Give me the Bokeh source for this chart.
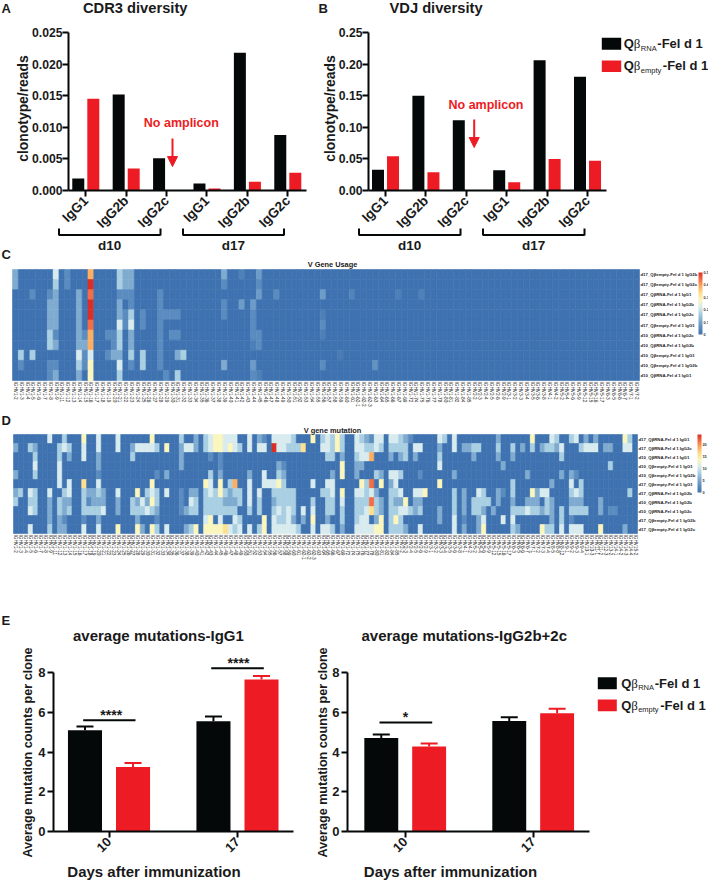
from math import pi
from bokeh.plotting import figure
from bokeh.layouts import row, column
from bokeh.models import (Label, Arrow, NormalHead, BoxAnnotation, FixedTicker, ColorBar, LinearAxis, Range1d,
                          LinearColorMapper, Whisker, TeeHead, ColumnDataSource)
from bokeh.embed import file_html
from bokeh.resources import INLINE

BLACK = "#050808"
RED = "#ed1c24"
FONT = "Liberation Sans"
DARK = "#1a1a1a"

ISOTYPES = ["IgG1", "IgG2b", "IgG2c", "IgG1", "IgG2b", "IgG2c"]
A_RNA = [0.0019, 0.0152, 0.0051, 0.0011, 0.0218, 0.0088]
A_EMPTY = [0.0145, 0.0035, 0.0, 0.0003, 0.0014, 0.0028]
B_RNA = [0.033, 0.150, 0.111, 0.032, 0.206, 0.180]
B_EMPTY = [0.054, 0.029, 0.0, 0.013, 0.050, 0.047]

DAYS = ["10", "17"]
E1_RNA = [5.10, 5.55]
E1_RNA_TOP = [5.28, 5.78]
E1_EMPTY = [3.25, 7.65]
E1_EMPTY_TOP = [3.45, 7.83]
E2_RNA = [4.71, 5.56]
E2_RNA_TOP = [4.88, 5.75]
E2_EMPTY = [4.28, 5.95]
E2_EMPTY_TOP = [4.43, 6.17]

C_ROWS = ["d17_Qβempty-Fel d 1 IgG2b", "d17_Qβempty-Fel d 1 IgG2c", "d17_QβRNA-Fel d 1 IgG1",
          "d17_QβRNA-Fel d 1 IgG2b", "d17_QβRNA-Fel d 1 IgG2c", "d17_Qβempty-Fel d 1 IgG1",
          "d10_QβRNA-Fel d 1 IgG2c", "d10_QβRNA-Fel d 1 IgG2b", "d10_Qβempty-Fel d 1 IgG1",
          "d10_Qβempty-Fel d 1 IgG2b", "d10_QβRNA-Fel d 1 IgG1"]
D_ROWS = ["d17_QβRNA-Fel d 1 IgG1", "d17_QβRNA-Fel d 1 IgG2c", "d10_QβRNA-Fel d 1 IgG1",
          "d10_Qβempty-Fel d 1 IgG1", "d10_Qβempty-Fel d 1 IgG2b", "d17_Qβempty-Fel d 1 IgG1",
          "d17_QβRNA-Fel d 1 IgG2b", "d10_QβRNA-Fel d 1 IgG2b", "d10_QβRNA-Fel d 1 IgG2c",
          "d17_Qβempty-Fel d 1 IgG2b", "d17_Qβempty-Fel d 1 IgG2c"]

GENE_NAMES = """1-2 1-3 1-4 1-5 1-6 1-7 1-8 1-9 1-11 1-12 1-13 1-14 1-15 1-16 1-17 1-18 1-19 1-20 1-21 1-22
1-23 1-24 1-25 1-26 1-27 1-28 1-29 1-30 1-31 1-32 1-33 1-34 1-35 1-36 1-37 1-38 1-39 1-40 1-41 1-42
1-43 1-44 1-45 1-46 1-47 1-48 1-49 1-50 1-51 1-52 1-53 1-54 1-55 1-56 1-57 1-58 1-59 1-60 1-61 1-62-1
1-62-2 1-62-3 1-63 1-64 1-65 1-66 1-67 1-69 1-72 1-74 1-75 1-76 1-77 1-78 1-80 1-81 1-82 1-84 1-85 2-2
2-3 2-4 2-5 2-6 2-9 3-1 3-2 3-3 3-4 3-5 3-6 3-8 4-1 4-2 5-2 5-4 5-6 5-9 5-12 5-15
5-16 5-17 6-3 6-5 6-6 6-7 7-1 7-2 7-3 7-4 8-5 8-8 8-12 9-1 9-2 9-3 9-4 10-1 10-3 11-1
11-2 12-3 13-2 14-1 14-2 14-3 14-4 15-2""".split()
C_GENES = ["IGHV" + g for g in GENE_NAMES[:108]]
D_GENES = ["IGHV" + g for g in GENE_NAMES]

# heat levels read by eye: column -> colour level 0 (blue) .. 9 (red)
C_LEVELS = [
    {0: 2, 7: 4, 9: 1, 13: 7, 18: 3, 19: 2, 20: 2, 36: 2, 39: .6, 42: 1.5},
    {0: 2, 7: 3, 9: 1, 13: 9, 18: 3, 19: 2, 20: 2, 36: 1, 42: 1},
    {3: 1, 6: 1, 7: 2, 11: 2, 13: 8, 18: 1, 19: 1, 20: 1, 25: 1, 42: 1.5, 45: 1, 53: 1.5, 58: .7, 66: .5, 70: .6},
    {6: 2, 7: 2, 11: 2, 13: 9, 18: 2, 20: 1, 25: 1, 36: 1, 39: 1.5, 41: 1.5},
    {6: 2, 7: 2, 11: 2, 13: 9, 18: 2, 19: 1, 20: 3, 22: 1, 25: 1, 26: 1, 27: 1, 28: 1, 36: 1, 41: 1, 53: .5},
    {6: 2, 7: 2, 11: 2, 13: 8, 18: 4, 19: 1, 20: 4, 22: 1, 25: 1, 41: 1, 53: 1},
    {6: 3, 7: 1, 11: 2, 12: 1, 13: 7, 16: 1, 17: 1, 18: 3, 20: 2, 25: 1, 27: 1, 28: 1, 41: 1, 42: 1, 53: .5},
    {6: 3, 7: 2, 11: 2, 12: 2, 13: 7, 17: 1, 18: 3, 20: 2, 25: 1, 41: .5, 42: 1},
    {1: 3, 3: 3, 11: 4, 12: 1, 13: 4, 16: 1, 17: 2, 18: 2, 20: 3, 22: 3, 25: 1, 28: 2, 29: 3, 56: .4},
    {1: 1, 6: 1, 7: 1, 11: 3, 12: 1, 13: 5, 18: 4, 20: 1, 22: 3, 25: 1, 36: 2, 41: 1.5, 53: 1, 62: 1.2},
    {6: 1, 7: 2, 11: 2, 13: 5, 18: 3, 26: 1, 28: 3, 41: 1, 42: .6},
]
D_LEVELS = [
    {7: 4, 10: 3, 14: 5, 17: 4, 21: 4, 28: 5, 34: 3, 37: 2, 39: 3, 40: 4, 41: 5, 42: 5, 43: 4, 44: 4, 45: 4, 48: 4,
     50: 2, 51: 1, 53: 4, 54: 4, 55: 4, 56: 4, 57: 3, 61: 5, 63: 3, 64: 4, 65: 3, 66: 5, 67: 3, 70: 4, 71: 3, 72: 2,
     73: 1, 74: 4, 75: 4, 77: 4, 78: 4, 79: 3, 80: 2, 81: 1, 87: 4, 88: 3, 90: 4, 99: 2, 106: 5, 110: 4, 111: 3,
     114: 3, 115: 4, 117: 2, 119: 2, 125: 5, 126: 3},
    {0: 2, 3: 3, 4: 2, 9: 3, 10: 4, 11: 3, 14: 4, 17: 4, 21: 4, 24: 2, 25: 4, 26: 4, 27: 4, 28: 4, 29: 3, 31: 5, 34: 2,
     35: 4, 36: 4, 37: 2, 39: 3, 40: 4, 41: 5, 42: 5, 43: 4, 44: 5, 45: 4, 46: 3, 48: 4, 50: 4, 51: 4, 53: 9, 54: 4,
     55: 4, 56: 3, 57: 3, 58: 3, 59: 6, 63: 4, 64: 4, 65: 3, 66: 5, 67: 3, 70: 4, 71: 4, 72: 3, 73: 3, 74: 4, 75: 3,
     77: 3, 78: 3, 79: 3, 80: 3, 82: 4, 83: 4, 87: 2, 90: 4, 92: 2, 93: 2, 94: 3, 95: 3, 99: 3, 102: 3, 104: 2, 106: 3,
     108: 2, 109: 3, 110: 3, 111: 2, 112: 4, 116: 3, 117: 4, 118: 4, 119: 4, 121: 2, 122: 2, 125: 4, 126: 4},
    {4: 3, 9: 3, 11: 2, 14: 4, 17: 2, 24: 3, 34: 2, 40: 1, 42: 1, 64: 3, 65: 3, 67: 2, 70: 3, 71: 4, 72: 4, 73: 7,
     77: 2, 79: 2, 80: 3, 82: 2, 87: 3, 94: 2, 99: 2, 102: 2, 112: 3},
    {4: 4, 9: 4, 17: 2, 34: 2, 42: 1, 54: 2, 55: 1, 67: 5, 70: 2, 71: 2, 87: 4, 100: 2, 122: 3},
    {0: 2, 4: 3, 9: 4, 17: 1, 29: 1, 31: 2, 40: 3, 42: 2, 48: 2, 51: 4, 54: 3, 55: 2, 65: 2, 67: 5, 70: 2, 74: 3,
     75: 2, 77: 4, 78: 4, 79: 3, 83: 1, 90: 2, 105: 2, 112: 2, 114: 2, 115: 1},
    {9: 4, 11: 4, 14: 6, 17: 4, 28: 5, 39: 5, 40: 4, 42: 5, 44: 3, 45: 7, 48: 4, 51: 4, 52: 4, 53: 4, 54: 5, 55: 3,
     61: 4, 64: 4, 65: 4, 71: 5, 72: 3, 73: 8, 75: 5, 77: 2, 78: 4, 87: 5, 102: 3, 110: 2, 114: 4, 116: 3},
    {0: 2, 1: 3, 3: 4, 4: 3, 7: 4, 10: 3, 11: 4, 14: 3, 15: 2, 16: 2, 17: 3, 18: 2, 21: 4, 25: 5, 27: 3, 28: 4, 29: 3,
     31: 4, 34: 1, 36: 2, 37: 2, 39: 3, 40: 4, 41: 3, 42: 5, 43: 3, 44: 2, 45: 3, 46: 3, 48: 4, 50: 4, 53: 3, 54: 3,
     55: 3, 56: 3, 57: 3, 63: 3, 64: 3, 65: 4, 67: 5, 70: 4, 71: 4, 72: 3, 73: 4, 74: 2, 77: 3, 78: 3, 79: 4, 82: 4,
     83: 4, 84: 5, 90: 3, 92: 2, 95: 4, 96: 3, 99: 2, 100: 1, 102: 3, 106: 5, 107: 2, 108: 4, 109: 4, 114: 3, 115: 4,
     116: 3, 126: 3},
    {0: 3, 3: 3, 4: 3, 7: 2, 9: 3, 10: 2, 11: 2, 14: 3, 15: 1, 16: 2, 17: 2, 18: 2, 21: 2, 24: 3, 25: 2, 26: 4, 27: 2,
     28: 5, 29: 3, 34: 1, 36: 4, 37: 3, 39: 3, 40: 3, 41: 3, 42: 3, 43: 2, 44: 2, 45: 2, 46: 3, 48: 4, 50: 3, 53: 2,
     54: 3, 55: 3, 56: 3, 57: 3, 61: 3, 64: 3, 65: 3, 67: 4, 70: 3, 71: 3, 72: 3, 73: 8, 74: 3, 75: 2, 77: 3, 78: 2,
     79: 2, 80: 5, 82: 2, 83: 2, 90: 3, 92: 2, 94: 3, 95: 3, 96: 3, 97: 3, 99: 2, 102: 2, 105: 2, 106: 2, 107: 2,
     109: 3, 110: 2, 114: 2, 115: 2, 116: 2, 120: 2},
    {3: 4, 4: 3, 7: 2, 9: 3, 10: 2, 11: 3, 14: 3, 15: 3, 16: 3, 17: 3, 18: 4, 21: 2, 24: 3, 25: 3, 26: 3, 27: 4, 28: 3,
     29: 2, 34: 1, 35: 2, 36: 3, 37: 3, 39: 3, 40: 3, 41: 3, 42: 3, 43: 3, 44: 3, 45: 3, 48: 3, 50: 3, 53: 3, 54: 4,
     55: 3, 56: 4, 57: 3, 59: 4, 61: 4, 64: 3, 65: 3, 67: 3, 70: 3, 71: 3, 72: 4, 73: 6, 74: 3, 75: 2, 77: 3, 78: 3,
     79: 4, 80: 4, 81: 3, 82: 2, 83: 3, 87: 2, 90: 3, 92: 2, 94: 3, 95: 3, 96: 2, 98: 2, 102: 3, 103: 3, 104: 3,
     105: 4, 106: 3, 107: 3, 108: 2, 109: 3, 110: 2, 112: 3, 114: 3, 115: 3, 116: 3, 117: 3, 120: 2, 122: 1, 123: 1},
    {7: 2, 9: 2, 10: 1, 14: 1, 17: 2, 25: 2, 29: 1, 39: 4, 40: 5, 42: 4, 45: 4, 46: 3, 51: 5, 53: 4, 54: 3, 55: 3,
     56: 4, 57: 2, 59: 2, 61: 5, 64: 2, 67: 3, 70: 3, 71: 4, 72: 4, 74: 2, 75: 5, 77: 3, 78: 5, 79: 3, 87: 2, 90: 4,
     92: 1, 95: 2, 96: 4, 100: 4, 102: 4, 110: 2, 112: 3, 114: 1},
    {3: 4, 7: 3, 9: 2, 10: 2, 14: 4, 17: 4, 21: 5, 25: 5, 26: 2, 28: 5, 29: 3, 31: 4, 35: 2, 36: 3, 37: 5, 39: 5, 40: 5,
     41: 5, 42: 5, 43: 6, 44: 4, 45: 3, 46: 4, 48: 4, 50: 3, 51: 5, 53: 4, 54: 4, 55: 4, 56: 4, 57: 4, 58: 3, 61: 4,
     63: 4, 64: 4, 65: 3, 67: 2, 70: 4, 71: 4, 72: 4, 73: 4, 74: 5, 75: 5, 77: 3, 78: 3, 79: 3, 80: 2, 83: 4, 90: 4,
     92: 2, 95: 2, 96: 5, 102: 3, 103: 2, 108: 5, 109: 3, 110: 3, 112: 4, 114: 4, 115: 4, 116: 4, 120: 5, 125: 2},
]
C_MAX = 0.5
D_MAX = 24
C_TICKS = [0, 0.1, 0.2, 0.3, 0.4, 0.5]
D_TICKS = [0, 5, 10, 15, 20]

ANCHORS = ["#3f72b0", "#5b8cc0", "#7fabd0", "#a9cfe3", "#d8ebee", "#faf6be", "#fde08f", "#fdae61", "#f46d43", "#d92f27"]


def make_palette():
    out = []
    for a, b in zip(ANCHORS[:-1], ANCHORS[1:]):
        ca = [int(a[i:i + 2], 16) for i in (1, 3, 5)]
        cb = [int(b[i:i + 2], 16) for i in (1, 3, 5)]
        for t in range(28):
            f = t / 28
            out.append("#%02x%02x%02x" % tuple(round(x + (y - x) * f) for x, y in zip(ca, cb)))
    out.append(ANCHORS[-1])
    return out


PALETTE = make_palette()


class Panel:
    """A figure whose frame fills it; `axes` is where (in page px) the axes box lies for the data ranges xr, yr."""

    def __init__(self, box, axes, xr, yr):
        self.box, self.axes, self.xr, self.yr = box, axes, xr, yr
        L, T, R, B = box
        self.p = figure(width=R - L, height=B - T,
                        x_range=Range1d(self.dx(L), self.dx(R)), y_range=Range1d(self.dy(B), self.dy(T)),
                        toolbar_location=None, output_backend="svg", min_border=0, outline_line_color=None,
                        background_fill_color=None, border_fill_color=None, x_axis_type=None, y_axis_type=None)
        self.p.grid.visible = False

    def dx(self, px):
        fl, _, fr, _ = self.axes
        a, b = self.xr
        return a + (px - fl) / (fr - fl) * (b - a)

    def dy(self, px):
        _, ft, _, fb = self.axes
        a, b = self.yr
        return a + (fb - px) / (fb - ft) * (b - a)

    def axis(self, side):
        if side in ("below",):
            ax = LinearAxis(fixed_location=self.yr[0], bounds=self.xr)
        elif side == "left":
            ax = LinearAxis(fixed_location=self.xr[0], bounds=self.yr)
        else:
            ax = LinearAxis(fixed_location=self.xr[1], bounds=self.yr)
        self.p.add_layout(ax, side)
        return ax

    def text(self, x, y, s, size, color=DARK, bold=True, align="left", base="alphabetic", font=FONT, angle=0.0):
        if base == "alphabetic":
            y = y - 0.34 * size  # Label draws this baseline lower than the given y
        self.p.add_layout(Label(x=self.dx(x), y=self.dy(y), text=s, text_font=font, angle=angle,
                                text_font_size=f"{size}px", text_color=color,
                                text_font_style="bold" if bold else "normal",
                                text_align=align, text_baseline=base))

    def line(self, x0, y0, x1, y1, width=2, color=BLACK):
        self.p.add_layout(Arrow(end=None, x_start=self.dx(x0), y_start=self.dy(y0), x_end=self.dx(x1),
                                y_end=self.dy(y1), line_color=color, line_width=width))

    def legend(self, left, right, tops, bots, xt, bases, size=13):
        names = ["RNA", "empty"]
        colors = [BLACK, RED]
        for top, bot, base, name, col in zip(tops, bots, bases, names, colors):
            self.p.add_layout(BoxAnnotation(left=self.dx(left), right=self.dx(right), top=self.dy(top),
                                            bottom=self.dy(bot), fill_color=col, fill_alpha=1,
                                            line_color=None, level="overlay"))
            self.text(xt, base, "Q", size)
            self.text(xt + 10, base, "β", size, bold=False, font="Liberation Serif")
            self.text(xt + 17, base + 3, name, 7.5, bold=False)
            self.text(xt + (33.5 if name == "RNA" else 39), base, "-Fel d 1", size)


def style_axis(ax, tick_size, standoff=2):
    ax.axis_line_width = 2
    ax.axis_line_color = BLACK
    ax.major_tick_line_width = 2
    ax.major_tick_line_color = BLACK
    ax.major_tick_out = 6
    ax.major_tick_in = 0
    ax.minor_tick_line_color = None
    ax.major_label_text_font = FONT
    ax.major_label_text_font_style = "bold"
    ax.major_label_text_font_size = f"{tick_size}px"
    ax.major_label_text_color = DARK
    ax.major_label_standoff = standoff


def diversity(box, axes, xr, yr, rna, empty, yticks, ylabels, ylab_x, title, title_x, amp_x, amp_y, arrow_x, arrow_y, br):
    pan = Panel(box, axes, xr, yr)
    p = pan.p
    x = list(range(len(rna)))
    p.vbar(x=[i - 0.186 for i in x], top=rna, width=0.297, fill_color=BLACK, line_color=None)
    p.vbar(x=[i + 0.186 for i in x], top=empty, width=0.297, fill_color=RED, line_color=None)
    xa = pan.axis("below")
    ya = pan.axis("left")
    style_axis(xa, 13.5)
    style_axis(ya, 12.2, 0)
    xa.ticker = FixedTicker(ticks=x)
    xa.major_label_overrides = {i: n for i, n in zip(x, ISOTYPES)}
    xa.major_label_orientation = pi / 4
    ya.ticker = FixedTicker(ticks=yticks)
    ya.major_label_overrides = dict(zip(yticks, ylabels))
    pan.text(ylab_x, 108, "clonotype/reads", 13.9, align="center", base="middle", angle=pi / 2)
    pan.text(title_x, 12, title, 14.7)
    pan.text(amp_x, amp_y, "No amplicon", 12.5, color=RED, base="middle")
    p.add_layout(Arrow(end=NormalHead(size=10, fill_color=RED, line_color=RED),
                       x_start=pan.dx(arrow_x), y_start=pan.dy(arrow_y), x_end=pan.dx(arrow_x),
                       y_end=pan.dy(arrow_y + 28), line_color=RED, line_width=2))
    for a, b, lab in zip(br[0::3], br[1::3], br[2::3]):
        pan.line(a, 234.5, b, 234.5)
        pan.line(a, 228, a, 235)
        pan.line(b, 228, b, 235)
        pan.text((a + b) / 2, 250, lab, 13.5, align="center")
    return pan


def heat(box, axes, genes, rows, levels, vmax, ticks, bar, title, title_y, label_size):
    ncol, nrow = len(genes), len(rows)
    pan = Panel(box, axes, (0, ncol), (0, nrow))
    p = pan.p
    xs, ys, vals = [], [], []
    for r, lev in enumerate(levels):
        for i in range(ncol):
            xs.append(i + 0.5)
            ys.append(nrow - r - 0.5)
            vals.append(lev.get(i, 0) * vmax / 9)
    mapper = LinearColorMapper(palette=PALETTE, low=0, high=vmax)
    tint = {"field": "v", "transform": mapper}
    p.rect(x="x", y="y", width=1, height=1, fill_color=tint, line_color=tint, line_width=0.6,
           source=ColumnDataSource(dict(x=xs, y=ys, v=vals)))
    xa = pan.axis("below")
    ya = pan.axis("right")
    for ax in (xa, ya):
        ax.axis_line_color = None
        ax.major_tick_line_color = None
        ax.minor_tick_line_color = None
        ax.major_label_text_font = FONT
        ax.major_label_text_color = "#222222"
        ax.major_label_standoff = 1
        ax.major_tick_out = 0
        ax.major_tick_in = 0
    xa.ticker = FixedTicker(ticks=[i + 0.5 for i in range(ncol)])
    xa.major_label_overrides = {i + 0.5: g for i, g in enumerate(genes)}
    xa.major_label_text_font_size = "4.7px"
    xa.major_label_orientation = -pi / 2
    ya.ticker = FixedTicker(ticks=[nrow - r - 0.5 for r in range(nrow)])
    ya.major_label_overrides = {nrow - r - 0.5: n for r, n in enumerate(rows)}
    ya.major_label_text_font_size = f"{label_size}px"
    ya.major_label_text_font_style = "bold"
    L, _, _, B = box
    cb = ColorBar(color_mapper=mapper, location=(bar[0] - L, B - bar[2]), width=4, height=bar[2] - bar[1],
                  padding=0, margin=0, ticker=FixedTicker(ticks=ticks),
                  major_label_text_font_size="3.8px", major_label_text_font_style="bold",
                  major_label_text_font=FONT, major_label_text_color="#333333", label_standoff=1,
                  major_tick_line_color=None, bar_line_color=None, background_fill_alpha=0,
                  border_line_color=None, major_label_overrides={t: str(t) for t in ticks})
    p.add_layout(cb)
    pan.text(332, title_y, title, 7.4, align="center", base="middle")
    return pan


def mutation(box, axes, xr, rna, rna_top, empty, empty_top, ylab_x, title, title_x, day_x):
    pan = Panel(box, axes, xr, (0, 8))
    p = pan.p
    x = list(range(len(rna)))
    xb = [i - 0.187 for i in x]
    xr_ = [i + 0.187 for i in x]
    p.vbar(x=xb, top=rna, width=0.265, fill_color=BLACK, line_color=None)
    p.vbar(x=xr_, top=empty, width=0.265, fill_color=RED, line_color=None)
    for xs, lo, hi, col in ((xb, rna, rna_top, BLACK), (xr_, empty, empty_top, RED)):
        src = ColumnDataSource(dict(x=xs, lo=lo, hi=hi))
        p.add_layout(Whisker(base="x", lower="lo", upper="hi", source=src, dimension="height",
                             line_color=col, line_width=2, lower_head=None,
                             upper_head=TeeHead(size=17, line_color=col, line_width=2)))
    xa = pan.axis("below")
    ya = pan.axis("left")
    style_axis(xa, 13)
    style_axis(ya, 13)
    xa.ticker = FixedTicker(ticks=x)
    xa.major_label_overrides = dict(zip(x, DAYS))
    xa.major_label_orientation = pi / 4
    ya.ticker = FixedTicker(ticks=[0, 2, 4, 6, 8])
    pan.text(ylab_x, 752, "Average mutation counts per clone", 12.6, align="center", base="middle", angle=pi / 2)
    pan.text(title_x, 640, title, 15)
    pan.text(day_x, 876, "Days after immunization", 15, align="center")
    return pan


# ---------- top row ----------
A = diversity((0, 0, 316, 261), (68, 32, 306, 190), (-0.428, 5.463), (0, 0.025), A_RNA, A_EMPTY,
              [0, 0.005, 0.010, 0.015, 0.020, 0.025], ["0.000", "0.005", "0.010", "0.015", "0.020", "0.025"], 22.5,
              "CDR3 diversity", 82.5, 143.3, 122, 172, 138, (58.5, 160, "d10", 182.5, 283.5, "d17"))
A.text(1, 12, "A", 13)
A.text(1, 258, "C", 13)

B = diversity((316, 0, 708, 261), (368, 32, 606, 190), (-0.421, 5.47), (0, 0.25), B_RNA, B_EMPTY,
              [0, 0.05, 0.10, 0.15, 0.20, 0.25], ["0.00", "0.05", "0.10", "0.15", "0.20", "0.25"], 329,
              "VDJ diversity", 389, 448, 104, 473.7, 119, (358.5, 460, "d10", 482.5, 584, "d17"))
B.text(318, 12, "B", 13)
B.legend(601.3, 620.7, (37.3, 60), (49.3, 71.5), 623.3, (47.5, 69.5))

# ---------- heat maps ----------
C = heat((0, 261, 708, 427), (12, 269, 639, 380), C_GENES, C_ROWS, C_LEVELS, C_MAX, C_TICKS,
         (698, 272, 334), "V Gene Usage", 264, 4.3)
C.text(1, 424.5, "D", 13)

D = heat((0, 427, 708, 610), (13, 434, 637, 533), D_GENES, D_ROWS, D_LEVELS, D_MAX, D_TICKS,
         (697, 434, 492), "V gene mutation", 430, 4.3)

# ---------- bottom row ----------
E1 = mutation((0, 610, 300, 880), (53, 672, 293, 831), (-0.432, 1.436), E1_RNA, E1_RNA_TOP, E1_EMPTY,
              E1_EMPTY_TOP, 27.7, "average mutations-IgG1", 72.5, 153.5)
E1.text(1, 624, "E", 13)
E1.line(82.7, 719.7, 135, 719.7)
E1.line(210.7, 667.7, 263.3, 667.7)
E1.text(110.7, 719, "****", 14, align="center")
E1.text(238, 667, "****", 14, align="center")

E2 = mutation((300, 610, 708, 880), (347, 672, 589, 831), (-0.451, 1.44), E2_RNA, E2_RNA_TOP, E2_EMPTY,
              E2_EMPTY_TOP, 322.7, "average mutations-IgG2b+2c", 361, 450)
E2.line(379, 722, 431.7, 722)
E2.text(405, 721, "*", 14, align="center")
E2.legend(597.3, 616.3, (676.7, 699), (688.7, 710.7), 620.7, (687, 709))

page = column(row(A.p, B.p), C.p, D.p, row(E1.p, E2.p))
open("out.html", "w").write(file_html(page, INLINE))
